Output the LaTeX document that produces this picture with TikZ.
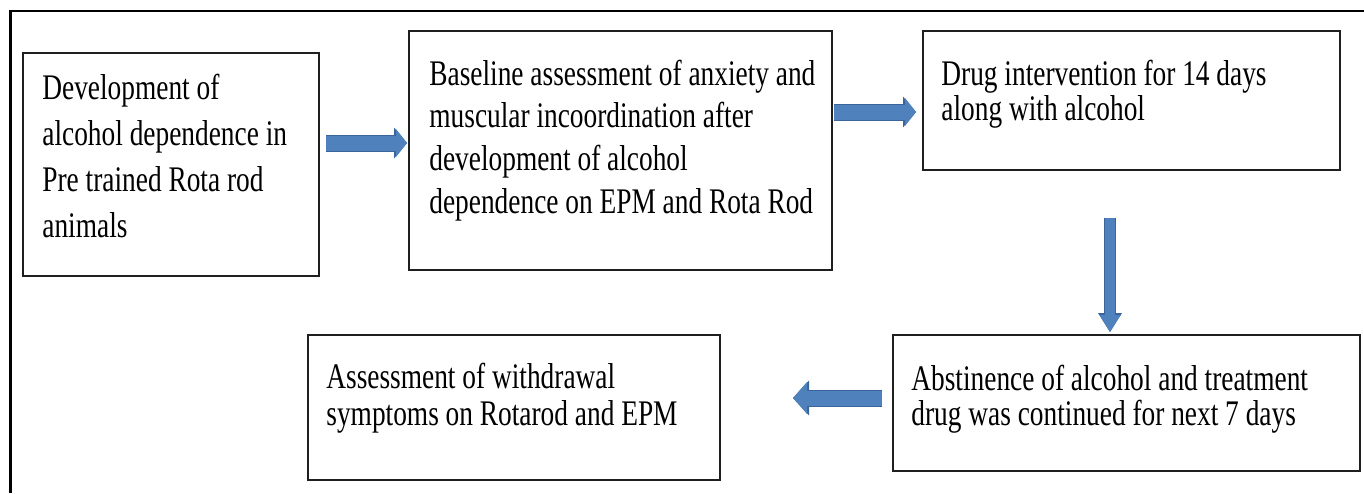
\documentclass[tikz,border=0pt]{standalone}
\usepackage{fontspec}
\setmainfont{Liberation Serif}[FakeStretch=0.76]
\usepackage{tikz}
\usetikzlibrary{arrows.meta, calc}

\definecolor{arrowfill}{HTML}{4F81BD}
\definecolor{arrowedge}{HTML}{3A659A}

\tikzset{
    stagebox/.style={draw=black!88, line width=1pt, rectangle, inner sep=0pt, outer sep=0pt, anchor=north west},
    stagetext/.style={anchor=base west, inner sep=0pt, align=left, font=\fontsize{18pt}{#1}\selectfont},
    widearrow/.style={line width=7.5pt, draw=arrowfill, -{Triangle[length=5.5pt, width=14pt, line width=0pt]},
        preaction={draw=arrowedge, line width=8.5pt, -{Triangle[length=6.5pt, width=15.5pt, line width=0pt]}}},
    thinarrow/.style={line width=5pt, draw=arrowfill, -{Triangle[length=8.5pt, width=10.5pt, line width=0pt]},
        preaction={draw=arrowedge, line width=6pt, -{Triangle[length=9.5pt, width=12pt, line width=0pt]}}},
    backarrow/.style={line width=7.5pt, draw=arrowfill, -{Triangle[length=7pt, width=16pt, line width=0pt]},
        preaction={draw=arrowedge, line width=8.5pt, -{Triangle[length=8pt, width=17.5pt, line width=0pt]}}}
}

\begin{document}
\begin{tikzpicture}[x=0.5pt, y=-0.5pt]
    \useasboundingbox (0,0) rectangle (1364,493);
    \draw[line width=1.25pt] (10.5,493) -- (10.5,11) -- (1364,11);

    \node[stagebox, minimum width=148pt, minimum height=111.5pt] (dev) at (23,53) {};
    \node[stagebox, minimum width=211.5pt, minimum height=119.5pt] (base) at (409,31) {};
    \node[stagebox, minimum width=208.5pt, minimum height=69.5pt] (drug) at (923,31) {};
    \node[stagebox, minimum width=233.5pt, minimum height=68pt] (abst) at (893,335) {};
    \node[stagebox, minimum width=206pt, minimum height=72.5pt] (assess) at (308,335) {};

    % text placed by the baseline of its last line
    \node[stagetext=23pt] (devtxt) at ([shift={(19,184)}]dev.north west)
        {Development of\\alcohol dependence in\\Pre trained Rota rod\\animals};
    \node[stagetext=21.3pt] (basetxt) at ([shift={(20,182)}]base.north west)
        {Baseline assessment of anxiety and\\muscular incoordination after\\development of alcohol\\dependence on EPM and Rota Rod};
    \node[stagetext=17.5pt] (drugtxt) at ([shift={(18,89)}]drug.north west)
        {Drug intervention for 14 days\\along with alcohol};
    \node[stagetext=17.5pt] (absttxt) at ([shift={(18,90)}]abst.north west)
        {Abstinence of alcohol and treatment\\drug was continued for next 7 days};
    \node[stagetext=18.5pt] (assesstxt) at ([shift={(18,90)}]assess.north west)
        {Assessment of withdrawal\\symptoms on Rotarod and EPM};

    \draw[widearrow, shorten <=3.5pt, shorten >=1pt] (dev.east |- 0,143) -- (base.west |- 0,143);
    \draw[widearrow, shorten <=1pt, shorten >=3.5pt] (base.east |- 0,112) -- (drug.west |- 0,112);
    \draw[thinarrow, shorten <=24pt, shorten >=1.5pt] (drug.south -| 1110,0) -- (abst.north -| 1110,0);
    \draw[backarrow, shorten <=5.5pt, shorten >=36.5pt] (abst.west |- 0,398) -- (assess.east |- 0,398);
\end{tikzpicture}
\end{document}
